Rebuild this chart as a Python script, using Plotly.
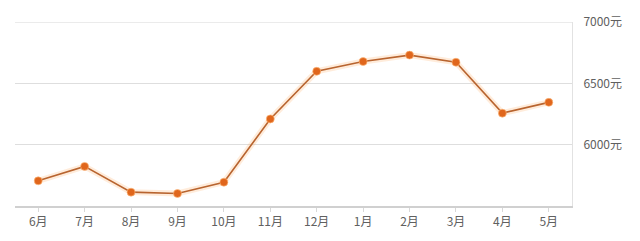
import plotly.graph_objects as go

months = ["6月", "7月", "8月", "9月", "10月", "11月", "12月", "1月", "2月", "3月", "4月", "5月"]
prices = [5705, 5823, 5613, 5602, 5694, 6210, 6598, 6678, 6730, 6672, 6257, 6345]
y_ticks = [6000, 6500, 7000]
y_tick_text = ["6000元", "6500元", "7000元"]

x_idx = list(range(len(months)))

fig = go.Figure()
# soft glow under the line
fig.add_trace(go.Scatter(x=x_idx, y=prices, mode="lines",
                         line=dict(color="rgba(255,170,90,0.22)", width=6),
                         hoverinfo="skip", showlegend=False))
fig.add_trace(go.Scatter(x=x_idx, y=prices, mode="lines+markers",
                         line=dict(color="#b8642f", width=1.6),
                         marker=dict(color="#e0661c", size=8,
                                     line=dict(color="rgba(255,190,130,0.6)", width=1)),
                         showlegend=False))

# top gridline at 7000 (plotly hides grid lines at the range edge)
fig.add_shape(type="line", xref="paper", yref="y", x0=0, x1=1, y0=7000, y1=7000,
              line=dict(color="#d8d8d8", width=1.2), layer="below")

fig.update_layout(
    width=640, height=241,
    margin=dict(l=15, r=68, t=22, b=33),
    paper_bgcolor="white", plot_bgcolor="white",
    font=dict(family="Noto Sans CJK SC", size=12, color="#666666"),
    xaxis=dict(
        range=[-0.5, 11.5],
        tickmode="array", tickvals=x_idx, ticktext=months,
        showgrid=False, zeroline=False,
        showline=True, linecolor="#d0d0d0", linewidth=1.5,
        ticks="outside", ticklen=4, tickcolor="#d8d8d8",
        tickfont=dict(size=12, color="#606060"),
    ),
    yaxis=dict(
        range=[5500, 7000], side="right",
        tickmode="array", tickvals=y_ticks, ticktext=y_tick_text,
        showgrid=True, gridcolor="#dedede", gridwidth=1,
        zeroline=False,
        showline=True, linecolor="#e2e2e2", linewidth=1,
        ticks="", ticklabelstandoff=8,
        tickfont=dict(size=12, color="#606060"),
    ),
)

fig.write_html("out.html")
